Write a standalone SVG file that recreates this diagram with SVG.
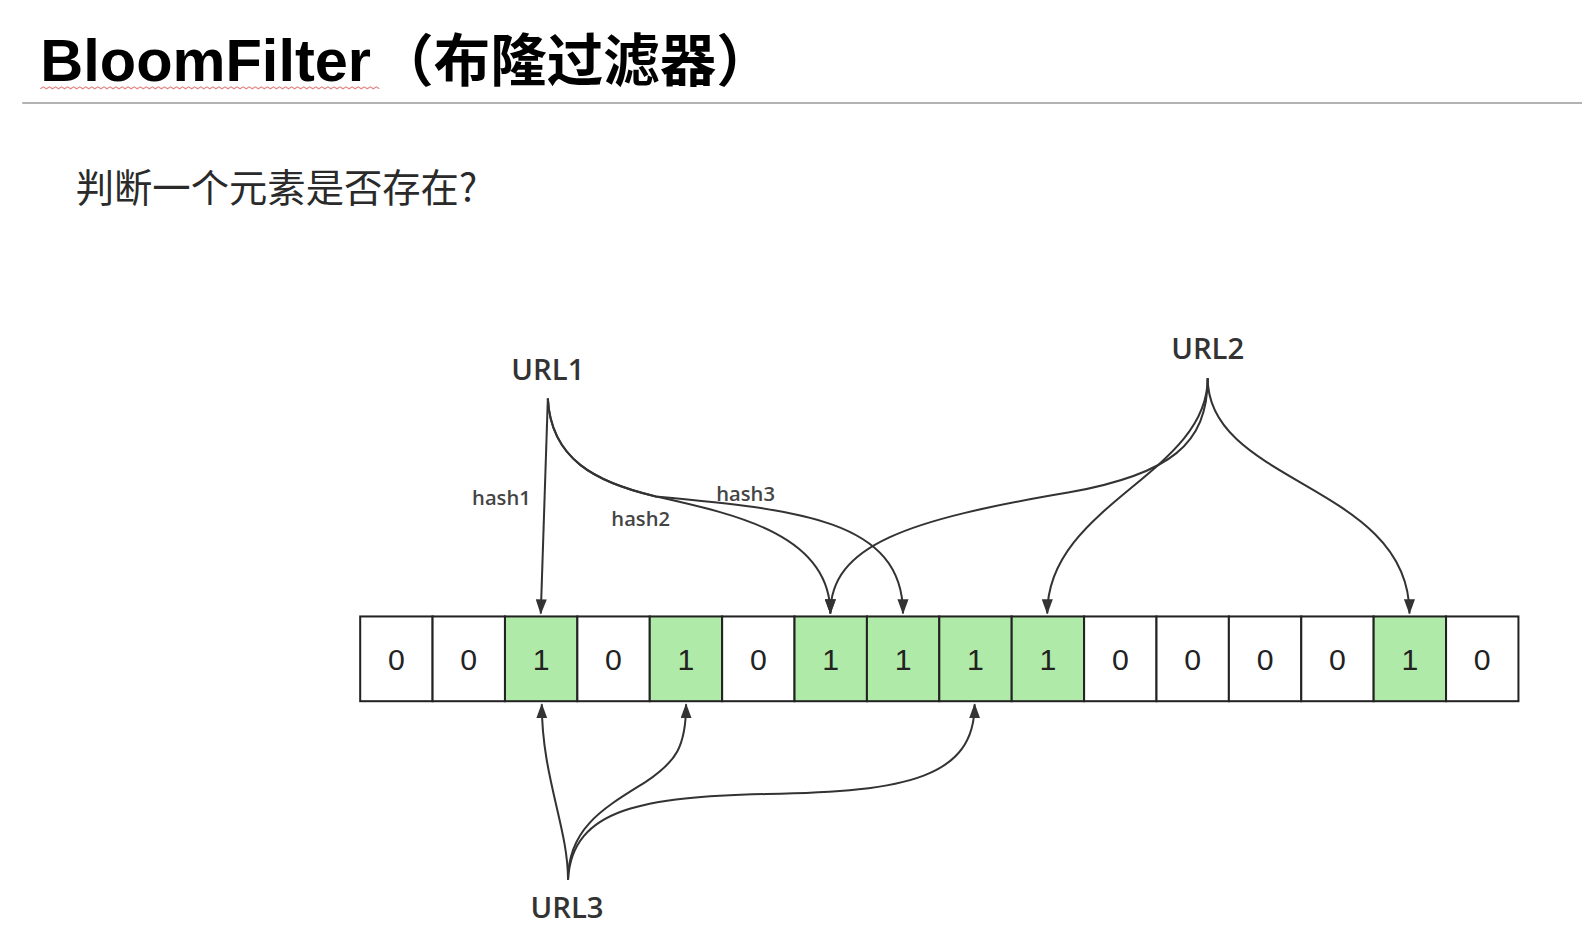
<svg xmlns="http://www.w3.org/2000/svg" width="1582" height="942" viewBox="0 0 1582 942">
<defs>
<marker id="arr" viewBox="0 0 15 11" refX="14" refY="5.5" markerWidth="15" markerHeight="11" markerUnits="userSpaceOnUse" orient="auto">
<path d="M0,0 L15,5.5 L0,11 Z" fill="#333"/>
</marker>
<style>
.title{font-family:"Liberation Sans",Arial,"Noto Sans CJK SC",sans-serif;font-weight:bold;fill:#000}
.sub{font-family:"Noto Sans CJK SC","Noto Sans",sans-serif;font-size:38px;fill:#2a2a2a}
.url{font-family:"Open Sans","DejaVu Sans",sans-serif;font-weight:600;font-size:29px;fill:#333;text-anchor:middle}
.hash{font-family:"Open Sans","DejaVu Sans",sans-serif;font-weight:600;font-size:20px;fill:#444;text-anchor:middle}
.cell{stroke:#222;stroke-width:2}
.z{fill:#fff}
.o{fill:#b0eaa8}
.v{font-family:"Liberation Sans",Arial,sans-serif;font-size:30px;fill:#222;text-anchor:middle}
.c{fill:none;stroke:#333;stroke-width:2;marker-end:url(#arr)}
</style>
</defs>
<rect width="1582" height="942" fill="#fff"/>
<g transform="scale(1.00893)">
<g id="title">
<text class="title" x="40" y="80" font-size="59">BloomFilter<tspan x="374" font-size="56" font-family="Noto Sans CJK SC,sans-serif">（布隆过滤器）</tspan></text>
<path d="M40,88 l3,-2 l3,2 l3,-2 l3,2 l3,-2 l3,2 l3,-2 l3,2 l3,-2 l3,2 l3,-2 l3,2 l3,-2 l3,2 l3,-2 l3,2 l3,-2 l3,2 l3,-2 l3,2 l3,-2 l3,2 l3,-2 l3,2 l3,-2 l3,2 l3,-2 l3,2 l3,-2 l3,2 l3,-2 l3,2 l3,-2 l3,2 l3,-2 l3,2 l3,-2 l3,2 l3,-2 l3,2 l3,-2 l3,2 l3,-2 l3,2 l3,-2 l3,2 l3,-2 l3,2 l3,-2 l3,2 l3,-2 l3,2 l3,-2 l3,2 l3,-2 l3,2 l3,-2 l3,2 l3,-2 l3,2 l3,-2 l3,2 l3,-2 l3,2 l3,-2 l3,2 l3,-2 l3,2 l3,-2 l3,2 l3,-2 l3,2 l3,-2 l3,2 l3,-2 l3,2 l3,-2 l3,2 l3,-2 l3,2 l3,-2 l3,2 l3,-2 l3,2 l3,-2 l3,2 l3,-2 l3,2 l3,-2 l3,2 l3,-2 l3,2 l3,-2 l3,2 l3,-2 l3,2 l3,-2 l3,2 l3,-2 l3,2 l3,-2 l3,2 l3,-2 l3,2 l3,-2 l3,2 l3,-2 l3,2 l3,-2 l3,2 l3,-2 l3,2" fill="none" stroke="#e08080" stroke-width="1"/>
<line x1="22" y1="102" x2="1580" y2="102" stroke="#999" stroke-width="1.5"/>
</g>
<g id="subtitle">
<text class="sub" x="75" y="200">判断一个元素是否存在?</text>
</g>
<g id="array">
<rect class="cell z" x="357" y="611" width="71.75" height="84"/>
<rect class="cell z" x="428.75" y="611" width="71.75" height="84"/>
<rect class="cell o" x="500.5" y="611" width="71.75" height="84"/>
<rect class="cell z" x="572.25" y="611" width="71.75" height="84"/>
<rect class="cell o" x="644" y="611" width="71.75" height="84"/>
<rect class="cell z" x="715.75" y="611" width="71.75" height="84"/>
<rect class="cell o" x="787.5" y="611" width="71.75" height="84"/>
<rect class="cell o" x="859.25" y="611" width="71.75" height="84"/>
<rect class="cell o" x="931" y="611" width="71.75" height="84"/>
<rect class="cell o" x="1002.75" y="611" width="71.75" height="84"/>
<rect class="cell z" x="1074.5" y="611" width="71.75" height="84"/>
<rect class="cell z" x="1146.25" y="611" width="71.75" height="84"/>
<rect class="cell z" x="1218" y="611" width="71.75" height="84"/>
<rect class="cell z" x="1289.75" y="611" width="71.75" height="84"/>
<rect class="cell o" x="1361.5" y="611" width="71.75" height="84"/>
<rect class="cell z" x="1433.25" y="611" width="71.75" height="84"/>
<text class="v" x="392.9" y="664">0</text>
<text class="v" x="464.6" y="664">0</text>
<text class="v" x="536.4" y="664">1</text>
<text class="v" x="608.1" y="664">0</text>
<text class="v" x="679.9" y="664">1</text>
<text class="v" x="751.6" y="664">0</text>
<text class="v" x="823.4" y="664">1</text>
<text class="v" x="895.1" y="664">1</text>
<text class="v" x="966.9" y="664">1</text>
<text class="v" x="1038.6" y="664">1</text>
<text class="v" x="1110.4" y="664">0</text>
<text class="v" x="1182.1" y="664">0</text>
<text class="v" x="1253.9" y="664">0</text>
<text class="v" x="1325.6" y="664">0</text>
<text class="v" x="1397.4" y="664">1</text>
<text class="v" x="1469.1" y="664">0</text>
</g>
<g id="url1"><text class="url" x="543" y="377">URL1</text></g>
<g id="url2"><text class="url" x="1197" y="356">URL2</text></g>
<g id="url3"><text class="url" x="562" y="910">URL3</text></g>
<g id="connectors">
<path class="c" d="M543,395 L536,608"/>
<path class="c" d="M543,395 C546,455 590,478 650,492 C730,510 823,530 823,608"/>
<path class="c" d="M543,395 C546,455 590,478 650,492 C790,505 895,515 895,608"/>
<path class="c" d="M1197,375 C1197,440 1160,470 1060,488 C900,515 823,540 823,608"/>
<path class="c" d="M1197,375 C1197,470 1038,500 1038,608"/>
<path class="c" d="M1197,375 C1197,480 1397,480 1397,608"/>
<path class="c" d="M563,872 C563,820 537,770 537,698"/>
<path class="c" d="M563,872 C563,820 600,800 640,775 C670,755 680,740 680,698"/>
<path class="c" d="M563,872 C567,800 640,790 760,787 C900,785 966,770 966,698"/>
</g>
<g id="labels">
<text class="hash" x="497" y="501">hash1</text>
<text class="hash" x="635" y="521">hash2</text>
<text class="hash" x="739" y="497">hash3</text>
</g>
</g>
</svg>
